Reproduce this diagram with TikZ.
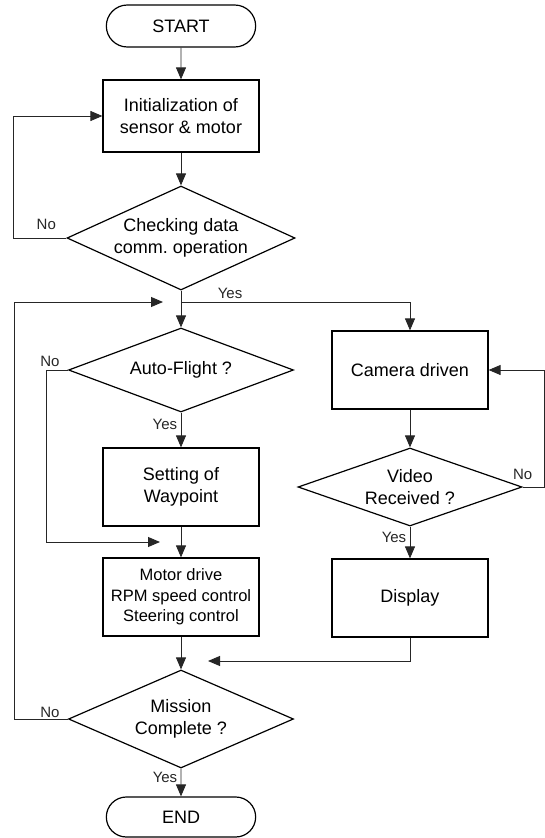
\documentclass[tikz,border=0pt]{standalone}
\usepackage{fontspec}
\setmainfont{Liberation Sans}
\usetikzlibrary{shapes.geometric,shapes.misc,arrows.meta}

\begin{document}
\begin{tikzpicture}[x=1pt, y=-1pt, >={Triangle[length=12pt,width=10pt]},
    term/.style={draw, rounded rectangle, line width=1.2pt, minimum width=156pt, font=\fontsize{18pt}{21.5pt}\selectfont},
    box/.style={draw, rectangle, line width=1.2pt, minimum width=156pt, minimum height=78pt, align=center, font=\fontsize{18pt}{21.5pt}\selectfont},
    decision/.style={draw, diamond, line width=1.2pt, inner sep=0pt, align=center, font=\fontsize{18pt}{21.5pt}\selectfont},
    lbl/.style={font=\fontsize{15pt}{17pt}\selectfont},
    line/.style={line width=0.9pt, black!85}]
    \useasboundingbox (0,0) rectangle (545,838);

    \node[term, minimum height=42pt] (start) at (181,26) {START};
    \node[box, minimum height=72pt, below of=start, node distance=90pt] (init) {Initialization of\\sensor \& motor};
    \node[decision, minimum width=228pt, minimum height=104pt, aspect=2.2, below of=init, node distance=122pt] (check) {Checking data\\comm.\ operation};
    \node[decision, minimum width=225pt, minimum height=84pt, aspect=2.7, below of=check, node distance=132pt] (auto) {Auto-Flight ?};
    \node[box, below of=auto, node distance=117pt] (setting) {Setting of\\Waypoint};
    \node[box, below of=setting, node distance=110pt, font=\fontsize{16.5pt}{20.5pt}\selectfont] (motor) {Motor drive\\RPM speed control\\Steering control};
    \node[decision, minimum width=225pt, minimum height=98pt, aspect=2.3, below of=motor, node distance=122pt] (mission) {Mission\\Complete ?};
    \node[term, minimum height=40pt, below of=mission, node distance=98pt] (end) {END};

    \node[box, right of=auto, node distance=229pt] (camera) {Camera driven};
    \node[decision, minimum width=224pt, minimum height=78pt, aspect=2.87, below of=camera, node distance=117pt] (video) {Video\\Received ?};
    \node[box, below of=video, node distance=111pt] (display) {Display};

    \coordinate (split) at (181,302);
    \coordinate (loopin) at (163,302);
    \coordinate (wpin) at (160,542);
    \coordinate (dispin) at (208,661);

    \draw[line,->] (start) -- (init);
    \draw[line,->] (init) -- (check);
    \draw[line,->] (check.west) -- node[lbl, above, pos=0.38, yshift=5pt] {No} ++(-53,0) |- (init.west);
    \draw[line,->] (check.south) -- (auto.north);
    \draw[line,->] (split) -| node[lbl, above, pos=0.107] {Yes} (camera.north);
    \draw[line,->] (auto) -- node[lbl, left, pos=0.35] {Yes} (setting);
    \draw[line,->] (auto.west) -- node[lbl, above, pos=0.86] {No} ++(-21,0) |- (wpin);
    \draw[line,->] (setting) -- (motor);
    \draw[line,->] (motor) -- (mission);
    \draw[line,->] (mission) -- node[lbl, left, pos=0.3] {Yes} (end);
    \draw[line,->] (mission.west) -- node[lbl, above, pos=0.34, inner sep=1pt] {No} ++(-53,0) |- (loopin);
    \draw[line,->] (camera) -- (video);
    \draw[line,->] (video.east) node[lbl, above, yshift=4pt] {No} -- ++(22,0) |- (camera.east);
    \draw[line,->] (video) -- node[lbl, left, pos=0.35] {Yes} (display);
    \draw[line,->] (display.south) |- (dispin);
\end{tikzpicture}
\end{document}
